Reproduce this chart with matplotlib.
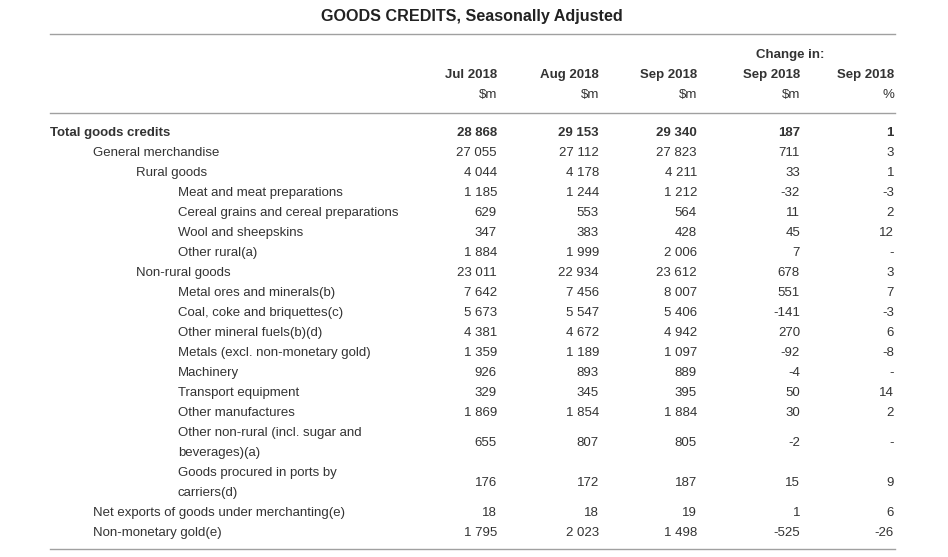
import matplotlib.pyplot as plt

plt.rcParams['font.family'] = ['Liberation Sans', 'DejaVu Sans']

W, H = 948, 557
TXT = '#333333'
LINE = '#a0a0a0'

title = "GOODS CREDITS, Seasonally Adjusted"
col_heads = ["Jul 2018", "Aug 2018", "Sep 2018", "Sep 2018", "Sep 2018"]
col_units = ["$m", "$m", "$m", "$m", "%"]

labels = [
    "Total goods credits",
    "General merchandise",
    "Rural goods",
    "Meat and meat preparations",
    "Cereal grains and cereal preparations",
    "Wool and sheepskins",
    "Other rural(a)",
    "Non-rural goods",
    "Metal ores and minerals(b)",
    "Coal, coke and briquettes(c)",
    "Other mineral fuels(b)(d)",
    "Metals (excl. non-monetary gold)",
    "Machinery",
    "Transport equipment",
    "Other manufactures",
    "Other non-rural (incl. sugar and\nbeverages)(a)",
    "Goods procured in ports by\ncarriers(d)",
    "Net exports of goods under merchanting(e)",
    "Non-monetary gold(e)",
]
levels = [0, 1, 2, 3, 3, 3, 3, 2, 3, 3, 3, 3, 3, 3, 3, 3, 3, 1, 1]
jul = ["28 868", "27 055", "4 044", "1 185", "629", "347", "1 884", "23 011", "7 642",
       "5 673", "4 381", "1 359", "926", "329", "1 869", "655", "176", "18", "1 795"]
aug = ["29 153", "27 112", "4 178", "1 244", "553", "383", "1 999", "22 934", "7 456",
       "5 547", "4 672", "1 189", "893", "345", "1 854", "807", "172", "18", "2 023"]
sep = ["29 340", "27 823", "4 211", "1 212", "564", "428", "2 006", "23 612", "8 007",
       "5 406", "4 942", "1 097", "889", "395", "1 884", "805", "187", "19", "1 498"]
chg = ["187", "711", "33", "-32", "11", "45", "7", "678", "551",
       "-141", "270", "-92", "-4", "50", "30", "-2", "15", "1", "-525"]
pct = ["1", "3", "1", "-3", "2", "12", "-", "3", "7",
       "-3", "6", "-8", "-", "14", "2", "-", "9", "6", "-26"]

fig = plt.figure(figsize=(W / 100, H / 100), dpi=100)
ax = fig.add_axes([0, 0, 1, 1])
ax.set_xlim(0, W)
ax.set_ylim(H, 0)
ax.axis('off')

fs = 9.5
col_x = [497, 599, 697, 800, 894]
indent = [50, 93, 136, 178]
dy = 2  # text baseline nudge

ax.text(472, 15 + dy, title, ha='center', va='center', fontsize=11.6, fontweight='bold', color='#222222')
ax.plot([50, 895], [34, 34], color=LINE, lw=1)
ax.text(790, 53 + dy, "Change in:", ha='center', va='center', fontsize=fs, fontweight='bold', color=TXT)
for x, h, u in zip(col_x, col_heads, col_units):
    ax.text(x, 73 + dy, h, ha='right', va='center', fontsize=fs, fontweight='bold', color=TXT)
    ax.text(x, 93 + dy, u, ha='right', va='center', fontsize=fs, color=TXT)
ax.plot([50, 895], [113, 113], color=LINE, lw=1)

y = 131
for i, lab in enumerate(labels):
    lines = lab.split("\n")
    wt = 'bold' if levels[i] == 0 else 'normal'
    yc = y + 10 * (len(lines) - 1)
    for k, ln in enumerate(lines):
        ax.text(indent[levels[i]], y + 20 * k + dy, ln, ha='left', va='center',
                fontsize=fs, fontweight=wt, color=TXT)
    for x, v in zip(col_x, [jul[i], aug[i], sep[i], chg[i], pct[i]]):
        ax.text(x, yc + dy, v, ha='right', va='center', fontsize=fs, fontweight=wt, color=TXT)
    y += 20 * len(lines)

ax.plot([50, 895], [549, 549], color=LINE, lw=1)

fig.savefig("out.png", dpi=100)
